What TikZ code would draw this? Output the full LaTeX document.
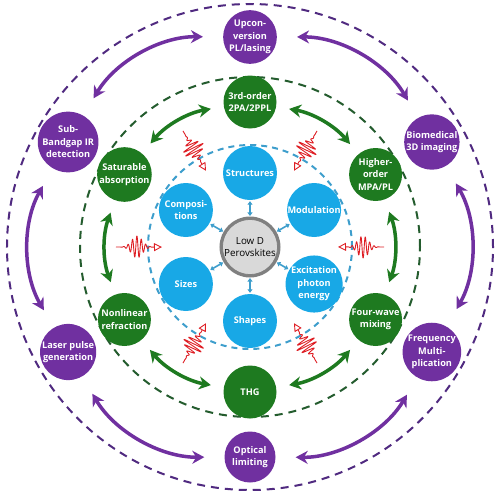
\documentclass[tikz,border=0pt]{standalone}
\usepackage{fontspec}
\setmainfont{Open Sans}
\usetikzlibrary{arrows.meta}

\definecolor{purp}{RGB}{112,48,160}
\definecolor{purpring}{RGB}{80,42,128}
\definecolor{grn}{RGB}{30,122,32}
\definecolor{grnring}{RGB}{36,92,46}
\definecolor{lblue}{RGB}{24,168,230}
\definecolor{bluering}{RGB}{62,158,204}
\definecolor{wavered}{RGB}{222,30,36}
\definecolor{ringgray}{RGB}{128,128,128}
\definecolor{fillgray}{RGB}{217,217,217}

% photon: wave packet pointing inwards at angle #1
\newcommand\photon[1]{%
  \begin{scope}[rotate=#1]
    \draw[wavered, line width=0.9pt, line join=round, -{Triangle[open, length=8pt, width=8pt]}]
      plot[domain=0:36, samples=220] ({134-\x}, {11*exp(-((\x-21)/7.5)^2)*sin(\x*360/4.4)}) -- (88,0);
  \end{scope}}

\begin{document}
\begin{tikzpicture}[x=1pt,y=1pt]
  \useasboundingbox (-250,-249) rectangle (250,247);

  % dashed rings
  \draw[purpring, line width=2pt, dash pattern=on 8pt off 6pt] (0,0) circle (243pt);
  \draw[grnring, line width=2pt, dash pattern=on 8pt off 6pt] (0,0) circle (170pt);
  \draw[bluering, line width=2pt, dash pattern=on 6pt off 5pt] (0,0) circle (102pt);

  % photons
  \photon{0}
  \photon{60}
  \photon{120}
  \photon{180}
  \photon{240}
  \photon{300}

  \begin{scope}[every node/.style={circle, fill=purp, text=white, align=center, inner sep=0pt,
      minimum size=51pt, font=\bfseries\fontsize{9.2}{12.5}\selectfont}]
    \node (p1) at (90:210) {Upcon-\\version\\PL/lasing};
    \node (p2) at (150:210) {Sub-\\Bandgap IR\\detection};
    \node (p3) at (210:210) {Laser pulse\\generation};
    \node (p4) at (270:210) {Optical\\limiting};
    \node (p5) at (330:210) {Frequency\\Multi-\\plication};
    \node (p6) at (30:210) {Biomedical\\3D imaging};
  \end{scope}

  \begin{scope}[every node/.style={circle, fill=grn, text=white, align=center, inner sep=0pt,
      minimum size=53pt, font=\bfseries\fontsize{9.2}{12.5}\selectfont}]
    \node (g1) at (90:145) {3rd-order\\2PA/2PPL};
    \node (g2) at (150:145) {Saturable\\absorption};
    \node (g3) at (210:145) {Nonlinear\\refraction};
    \node (g4) at (270:145) {THG};
    \node (g5) at (330:145) {Four-wave\\mixing};
    \node (g6) at (30:145) {Higher-\\order\\MPA/PL};
  \end{scope}

  \begin{scope}[every node/.style={circle, fill=lblue, text=white, align=center, inner sep=0pt,
      minimum size=54pt, font=\bfseries\fontsize{9.2}{12.5}\selectfont}]
    \node (b1) at (90:74) {Structures};
    \node (b2) at (150:74) {Composi-\\tions};
    \node (b3) at (210:74) {Sizes};
    \node (b4) at (270:74) {Shapes};
    \node (b5) at (330:74) {Excitation\\photon\\energy};
    \node (b6) at (30:74) {Modulation};
  \end{scope}

  \node[circle, fill=fillgray, draw=ringgray, line width=0.8pt, minimum size=53pt, inner sep=0pt,
    align=center, font=\fontsize{9.8}{12.5}\selectfont] (c) at (0,0) {Low D\\Perovskites};
  \draw[ringgray, line width=3pt] (c.center) circle (29pt);

  \begin{scope}[every edge/.style={draw, purp, line width=3.5pt,
      {Stealth[length=12pt, width=13pt]}-{Stealth[length=12pt, width=13pt]},
      shorten <=20pt, shorten >=20pt}]
    \path (p1) edge[bend right=30] (p2);
    \path (p2) edge[bend right=30] (p3);
    \path (p3) edge[bend right=30] (p4);
    \path (p4) edge[bend right=30] (p5);
    \path (p5) edge[bend right=30] (p6);
    \path (p6) edge[bend right=30] (p1);
  \end{scope}

  \begin{scope}[every edge/.style={draw, grn, line width=3.5pt,
      {Stealth[length=12pt, width=13pt]}-{Stealth[length=12pt, width=13pt]},
      shorten <=13pt, shorten >=13pt}]
    \path (g1) edge[bend right=20] (g2);
    \path (g2) edge[bend right=20] (g3);
    \path (g3) edge[bend right=20] (g4);
    \path (g4) edge[bend right=20] (g5);
    \path (g5) edge[bend right=20] (g6);
    \path (g6) edge[bend right=20] (g1);
  \end{scope}

  \begin{scope}[every edge/.style={draw, bluering, line width=1.6pt,
      {Triangle[length=3.5pt, width=5pt]}-{Triangle[length=3.5pt, width=5pt]},
      shorten <=3pt, shorten >=1pt}]
    \path (c) edge (b1);
    \path (c) edge (b2);
    \path (c) edge (b3);
    \path (c) edge (b4);
    \path (c) edge (b5);
    \path (c) edge (b6);
  \end{scope}

\end{tikzpicture}
\end{document}
